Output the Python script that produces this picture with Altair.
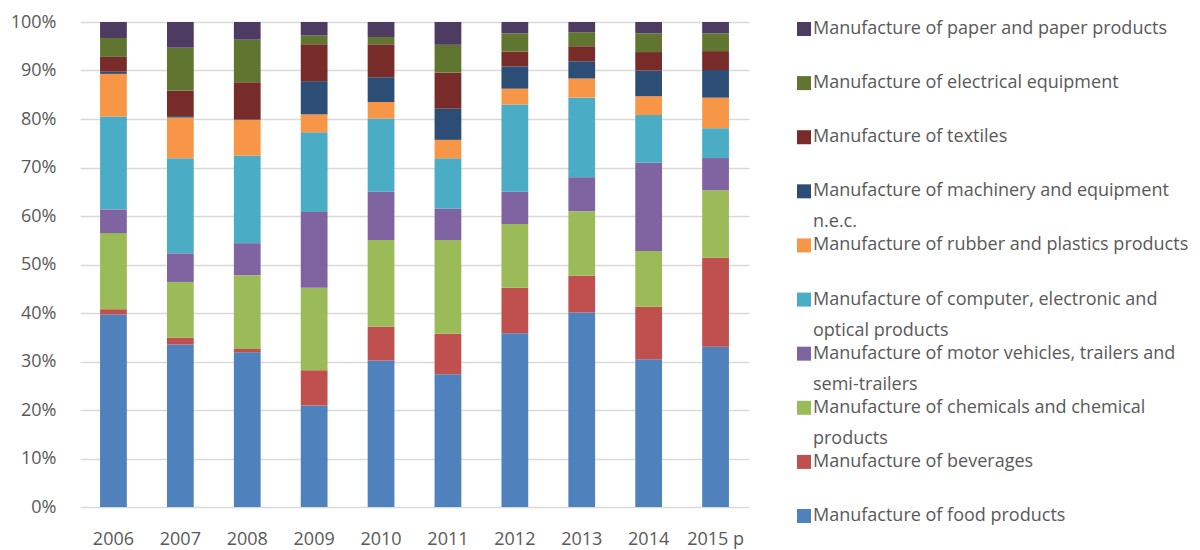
import altair as alt
import pandas as pd

years = ["2006", "2007", "2008", "2009", "2010", "2011", "2012", "2013", "2014", "2015 p"]

series = [
    "Manufacture of food products",
    "Manufacture of beverages",
    "Manufacture of chemicals and chemical products",
    "Manufacture of motor vehicles, trailers and semi-trailers",
    "Manufacture of computer, electronic and optical products",
    "Manufacture of rubber and plastics products",
    "Manufacture of machinery and equipment n.e.c.",
    "Manufacture of textiles",
    "Manufacture of electrical equipment",
    "Manufacture of paper and paper products",
]
colors = ["#4F81BD", "#C0504D", "#9BBB59", "#8064A2", "#4BACC6",
          "#F79646", "#2C4D75", "#772C2A", "#5F7530", "#4D3B62"]

food = [39.7, 33.5, 31.9, 20.9, 30.2, 27.35, 35.8, 40.1, 30.45, 33.05]
beverages = [1.1, 1.4, 0.7, 7.3, 7.0, 8.35, 9.4, 7.6, 10.85, 18.35]
chemicals = [15.7, 11.5, 15.2, 17.0, 17.85, 19.35, 13.15, 13.3, 11.5, 13.9]
motor = [4.9, 5.9, 6.6, 15.6, 9.95, 6.45, 6.65, 7.0, 18.2, 6.65]
computer = [19.15, 19.6, 18.0, 16.45, 15.1, 10.4, 18.0, 16.4, 9.8, 6.15]
rubber = [8.8, 8.4, 7.4, 3.7, 3.4, 3.8, 3.25, 3.95, 3.9, 6.3]
machinery = [0.45, 0.3, 0.1, 6.85, 5.1, 6.4, 4.6, 3.55, 5.3, 5.7]
textiles = [3.05, 5.2, 7.7, 7.6, 6.8, 7.45, 3.05, 3.1, 3.8, 3.9]
electrical = [3.9, 8.9, 8.75, 1.8, 1.5, 5.75, 3.75, 2.9, 3.85, 3.65]
paper = [3.3, 5.3, 3.65, 2.8, 3.1, 4.7, 2.35, 2.1, 2.35, 2.35]

values = [food, beverages, chemicals, motor, computer, rubber, machinery, textiles, electrical, paper]

# legend text (top to bottom), split in two lines as in the original
legend_line1 = [
    "Manufacture of paper and paper products",
    "Manufacture of electrical equipment",
    "Manufacture of textiles",
    "Manufacture of machinery and equipment",
    "Manufacture of rubber and plastics products",
    "Manufacture of computer, electronic and",
    "Manufacture of motor vehicles, trailers and",
    "Manufacture of chemicals and chemical",
    "Manufacture of beverages",
    "Manufacture of food products",
]
legend_line2 = ["", "", "", "n.e.c.", "", "optical products", "semi-trailers", "products", "", ""]

rows = []
for i, (s, vals) in enumerate(zip(series, values)):
    for y, v in zip(years, vals):
        rows.append({"year": y, "series": s, "idx": i, "value": v})
df = pd.DataFrame(rows)

legend_order = list(reversed(series))
leg = pd.DataFrame({"series": legend_order, "line1": legend_line1, "line2": legend_line2})

FONT = "Open Sans"
GREY = "#595959"

color_scale = alt.Scale(domain=series, range=colors)

bars = alt.Chart(df).mark_bar().encode(
    x=alt.X("year:N", sort=years, title=None,
            scale=alt.Scale(paddingInner=0.6, paddingOuter=0.3),
            axis=alt.Axis(labelAngle=0, ticks=False, domain=False, labelPadding=23,
                          labelFontSize=18, labelFont=FONT, labelColor=GREY)),
    y=alt.Y("value:Q", stack="normalize", title=None,
            scale=alt.Scale(domain=[0, 1]),
            axis=alt.Axis(format=".0%", values=[i / 10 for i in range(11)], ticks=False,
                          domain=False, labelPadding=24, labelFontSize=18, labelFont=FONT,
                          labelColor=GREY, gridColor="#D9D9D9", gridWidth=1.5)),
    color=alt.Color("series:N", scale=color_scale, legend=None),
    order=alt.Order("idx:Q", sort="ascending"),
)

ly = alt.Y("series:N", scale=alt.Scale(type="point", domain=legend_order, range=[7, 494], padding=0),
           axis=None)

leg_sq = alt.Chart(leg).mark_square(size=196, opacity=1).encode(
    x=alt.value(724), y=ly,
    color=alt.Color("series:N", scale=color_scale, legend=None),
)
leg_t1 = alt.Chart(leg).mark_text(align="left", baseline="middle", fontSize=18,
                                  font=FONT, color=GREY).encode(
    x=alt.value(733), y=ly, text="line1:N")
leg_t2 = alt.Chart(leg).mark_text(align="left", baseline="middle", fontSize=18,
                                  font=FONT, color=GREY, dy=31).encode(
    x=alt.value(733), y=ly, text="line2:N")

chart = alt.layer(bars, leg_sq, leg_t1, leg_t2).resolve_scale(y="independent").properties(
    width=669, height=485,
    padding={"left": 2, "top": 5, "right": 0, "bottom": 0},
).configure_view(stroke=None)

chart.save("out.html", embed_options={"renderer": "svg", "actions": False})
